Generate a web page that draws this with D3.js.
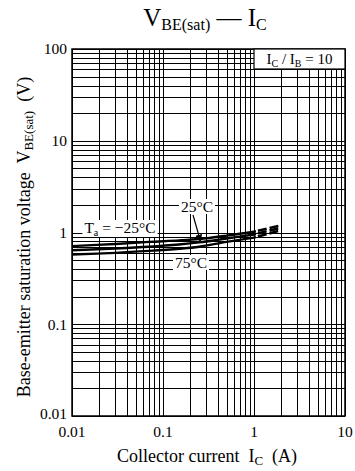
<!DOCTYPE html>
<html>
<head>
<meta charset="utf-8">
<script src="https://cdn.jsdelivr.net/npm/d3@7"></script>
<style>
  html, body { margin: 0; padding: 0; background: #fff; }
  svg { display: block; font-family: "Liberation Serif", "Times New Roman", serif; }
  svg text { white-space: pre; }
</style>
</head>
<body>
<svg id="chart"></svg>
<script>
// data
const current = [0.01, 0.03, 0.07, 0.15, 0.25, 0.5, 1];
const vMinus25 = [0.71, 0.75, 0.79, 0.82, 0.85, 0.925, 1.02];
const v25 = [0.64, 0.67, 0.70, 0.74, 0.78, 0.86, 0.95];
const v75 = [0.575, 0.60, 0.63, 0.665, 0.70, 0.79, 0.88];
// dashed extension (1 A -> 2 A)
const currentExt = [1, 2];
const extMinus25 = [1.02, 1.2];
const ext25 = [0.95, 1.13];
const ext75 = [0.88, 1.06];

const xTickValues = [0.01, 0.1, 1, 10];
const xTickLabels = ["0.01", "0.1", "1", "10"];
const yTickValues = [0.01, 0.1, 1, 10, 100];
const yTickLabels = ["0.01", "0.1", "1", "10", "100"];

const width = 355, height = 471;
const margin = { top: 49, right: 10, bottom: 55, left: 72 };

const svg = d3.select("#chart").attr("width", width).attr("height", height);

const x = d3.scaleLog().domain([0.01, 10]).range([margin.left, width - margin.right]);
const y = d3.scaleLog().domain([0.01, 100]).range([height - margin.bottom, margin.top]);

// grid values 1..9 per decade
function gridVals(lo, hi) {
  const out = [];
  for (let d = lo; d < hi * 0.999; d *= 10) {
    for (let k = 1; k <= 9; k++) out.push(d * k);
  }
  out.push(hi);
  return out;
}

const grid = svg.append("g").attr("stroke", "#000").attr("stroke-width", 1).attr("shape-rendering", "crispEdges");
grid.selectAll(".vx")
  .data(gridVals(0.01, 10))
  .enter().append("line")
  .attr("x1", d => Math.round(x(d)) + 0.5).attr("x2", d => Math.round(x(d)) + 0.5)
  .attr("y1", y(100)).attr("y2", y(0.01));
grid.selectAll(".hy")
  .data(gridVals(0.01, 100))
  .enter().append("line")
  .attr("y1", d => Math.round(y(d)) + 0.5).attr("y2", d => Math.round(y(d)) + 0.5)
  .attr("x1", x(0.01)).attr("x2", x(10));

// frame
svg.append("rect")
  .attr("x", x(0.01)).attr("y", y(100))
  .attr("width", x(10) - x(0.01)).attr("height", y(0.01) - y(100))
  .attr("fill", "none").attr("stroke", "#000").attr("stroke-width", 1.5);

// curves
const line = d3.line().x(d => x(d[0])).y(d => y(d[1])).curve(d3.curveCatmullRom.alpha(0.5));
const series = [vMinus25, v25, v75];
const extSeries = [extMinus25, ext25, ext75];

svg.append("g").selectAll("path")
  .data(series)
  .enter().append("path")
  .attr("d", s => line(current.map((c, i) => [c, s[i]])))
  .attr("fill", "none").attr("stroke", "#000").attr("stroke-width", 2.4);

svg.append("g").selectAll("path")
  .data(extSeries)
  .enter().append("path")
  .attr("d", s => line(currentExt.map((c, i) => [c, s[i]])))
  .attr("fill", "none").attr("stroke", "#000").attr("stroke-width", 2.6)
  .attr("stroke-dasharray", "2,2,9,3,9,10");

// labels with white knock-out
function boxedText(tx, ty, build, size, pad) {
  const g = svg.append("g");
  const rect = g.append("rect").attr("fill", "#fff");
  const t = g.append("text").attr("x", tx).attr("y", ty).attr("font-size", size).attr("text-anchor", "middle");
  build(t);
  const bb = t.node().getBBox();
  rect.attr("x", bb.x - pad).attr("y", bb.y + 1).attr("width", bb.width + 2 * pad).attr("height", bb.height - 2);
  return g;
}

boxedText(120, 233, t => {
  t.append("tspan").text("T");
  t.append("tspan").attr("font-size", 10).attr("dy", 3).text("a");
  t.append("tspan").attr("dy", -3).text(" = \u221225\u00b0C");
}, 15.5, 2);

boxedText(197, 212, t => t.text("25\u00b0C"), 15.5, 2);
boxedText(191, 268, t => t.text("75\u00b0C"), 15.5, 2);

// arrow for 25°C
svg.append("defs").append("marker")
  .attr("id", "arr").attr("viewBox", "0 0 10 10").attr("refX", 9).attr("refY", 5)
  .attr("markerWidth", 7).attr("markerHeight", 7).attr("orient", "auto")
  .append("path").attr("d", "M0,1 L10,5 L0,9 Z").attr("fill", "#000");
svg.append("line")
  .attr("x1", 193).attr("y1", 215)
  .attr("x2", x(0.26)).attr("y2", y(0.785))
  .attr("stroke", "#000").attr("stroke-width", 1.2)
  .attr("marker-end", "url(#arr)");

// condition box
const cond = svg.append("g");
cond.append("rect")
  .attr("x", x(1)).attr("y", y(100))
  .attr("width", x(10) - x(1)).attr("height", 20)
  .attr("fill", "#fff").attr("stroke", "#000").attr("stroke-width", 1.2);
const ct = cond.append("text")
  .attr("x", (x(1) + x(10)) / 2).attr("y", y(100) + 15)
  .attr("text-anchor", "middle").attr("font-size", 15);
ct.append("tspan").text("I");
ct.append("tspan").attr("font-size", 10).attr("dy", 3).text("C");
ct.append("tspan").attr("dy", -3).text(" / I");
ct.append("tspan").attr("font-size", 10).attr("dy", 3).text("B");
ct.append("tspan").attr("dy", -3).text(" = 10");

// tick labels
svg.append("g").selectAll("text")
  .data(xTickValues)
  .enter().append("text")
  .attr("x", d => x(d)).attr("y", height - margin.bottom + 21)
  .attr("text-anchor", "middle").attr("font-size", 15.5)
  .text((d, i) => xTickLabels[i]);

svg.append("g").selectAll("text")
  .data(yTickValues)
  .enter().append("text")
  .attr("x", margin.left - 5).attr("y", d => y(d))
  .attr("dy", d => d === 0.01 ? "0.2em" : "0.35em")
  .attr("text-anchor", "end").attr("font-size", 15.5)
  .text((d, i) => yTickLabels[i]);

// title
const title = svg.append("text")
  .attr("x", 205).attr("y", 26)
  .attr("text-anchor", "middle").attr("font-size", 25);
title.append("tspan").text("V");
title.append("tspan").attr("font-size", 16).attr("dy", 4).text("BE(sat)");
title.append("tspan").attr("dy", -4).text(" \u2014 I");
title.append("tspan").attr("font-size", 16).attr("dy", 4).text("C");

// x axis title
const xt = svg.append("text")
  .attr("x", 207).attr("y", 462)
  .attr("text-anchor", "middle").attr("font-size", 18);
xt.append("tspan").text("Collector current  I");
xt.append("tspan").attr("font-size", 13).attr("dy", 3).text("C");
xt.append("tspan").attr("dy", -3).text("  (A)");

// y axis title
const yt = svg.append("text")
  .attr("transform", "translate(30,237) rotate(-90)")
  .attr("text-anchor", "middle").attr("font-size", 18);
yt.append("tspan").text("Base-emitter saturation voltage  V");
yt.append("tspan").attr("font-size", 13).attr("dy", 3).text("BE(sat)");
yt.append("tspan").attr("dy", -3).text("  (V)");
</script>
</body>
</html>
